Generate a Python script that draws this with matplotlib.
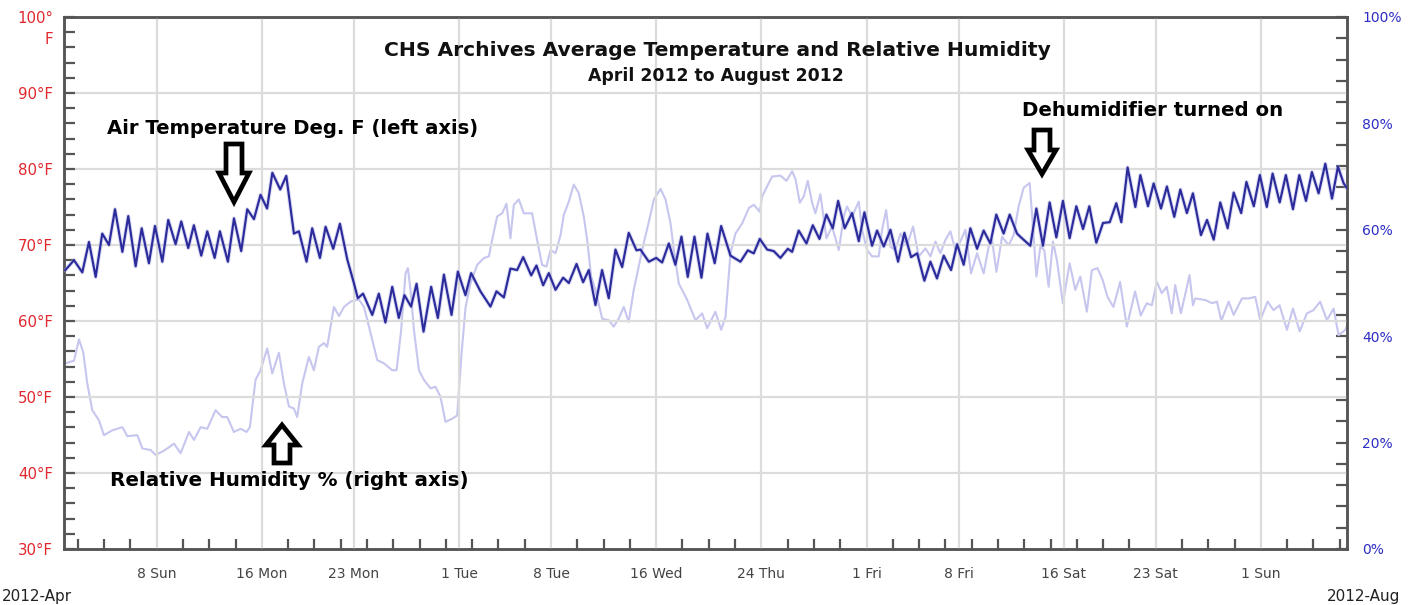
import numpy as np
import matplotlib
matplotlib.use("Agg")
import matplotlib.pyplot as plt
from matplotlib.patches import Polygon
from matplotlib.ticker import FixedLocator, MultipleLocator

# ---------------- data (days since 2012-04-01) ----------------
temp_day = [
    0.05, 0.71, 1.34, 1.85, 2.36, 2.86, 3.37, 3.83, 4.39, 4.84,
    5.4, 5.86, 6.41, 6.87, 7.43, 7.88, 8.44, 8.87, 9.4, 9.83,
    10.39, 10.85, 11.41, 11.81, 12.42, 12.88, 13.43, 13.89, 14.4, 14.9,
    15.4, 15.8, 16.4, 16.86, 17.44, 17.82, 18.4, 18.83, 19.42, 19.85,
    20.43, 20.94, 21.5, 22.0, 22.3, 22.7, 23.4, 23.9, 24.4, 24.92,
    25.42, 25.85, 26.35, 26.77, 27.3, 27.88, 28.39, 28.85, 29.43, 29.91,
    30.49, 30.92, 31.63, 32.39, 32.85, 33.41, 33.91, 34.42, 34.88, 35.49,
    35.89, 36.4, 36.83, 37.34, 37.92, 38.35, 38.94, 39.44, 39.87, 40.38,
    40.88, 41.39, 41.9, 42.41, 42.91, 43.5, 43.8, 44.44, 45.0, 45.45,
    45.96, 46.46, 46.92, 47.4, 47.91, 48.44, 48.9, 49.45, 49.94, 50.65,
    51.41, 51.97, 52.42, 52.88, 53.44, 53.94, 54.45, 55.01, 55.34, 55.84,
    56.43, 56.91, 57.42, 57.95, 58.43, 58.84, 59.34, 59.9, 60.41, 60.84,
    61.42, 61.8, 62.31, 62.82, 63.4, 63.88, 64.39, 64.85, 65.4, 65.86,
    66.36, 66.87, 67.43, 67.89, 68.39, 68.9, 69.41, 69.91, 70.42, 70.87,
    71.43, 71.89, 72.45, 72.75, 73.46, 73.92, 74.42, 74.93, 75.44, 75.94,
    76.45, 76.96, 77.47, 77.95, 78.48, 78.99, 79.5, 80.0, 80.38, 80.86,
    81.45, 81.83, 82.41, 82.84, 83.4, 83.85, 84.41, 84.87, 85.37, 85.83,
    86.44, 86.9, 87.41, 87.91, 88.47, 88.93, 89.5, 89.9, 90.46, 90.92,
    91.45, 91.89, 92.43, 92.9, 93.44, 93.92, 94.43, 94.88, 95.39, 95.9,
    96.41, 96.86, 97.3, 97.67,
]
temp_f = [
    66.7, 68.0, 66.4, 70.4, 65.8, 71.5, 70.0, 74.7, 69.1, 73.8,
    67.2, 72.2, 67.6, 72.5, 67.8, 73.3, 70.1, 73.1, 69.6, 72.6,
    68.6, 71.8, 68.3, 71.8, 67.8, 73.5, 69.2, 74.7, 73.4, 76.6,
    74.8, 79.5, 77.3, 79.1, 71.5, 71.8, 67.8, 72.2, 68.3, 72.4,
    69.5, 72.8, 68.1, 65.0, 63.0, 63.6, 60.8, 63.6, 59.8, 64.5,
    60.4, 63.4, 61.9, 64.9, 58.6, 64.5, 60.4, 66.1, 60.8, 66.5,
    63.4, 66.3, 63.9, 61.9, 63.9, 63.1, 66.9, 66.7, 68.4, 66.0,
    67.3, 64.7, 66.3, 64.1, 65.7, 65.0, 67.5, 65.1, 66.7, 62.1,
    66.7, 63.0, 69.4, 67.1, 71.6, 69.3, 69.4, 67.8, 68.3, 67.7,
    70.2, 67.4, 71.1, 65.8, 71.1, 65.7, 71.5, 67.6, 72.5, 68.6,
    67.8, 69.3, 68.9, 70.8, 69.4, 69.2, 68.3, 69.5, 69.1, 71.9,
    70.2, 72.6, 70.8, 74.0, 72.2, 75.8, 72.2, 74.2, 70.5, 74.3,
    69.9, 71.9, 69.8, 72.0, 67.8, 71.6, 68.4, 68.9, 65.3, 67.8,
    65.6, 68.6, 66.7, 70.1, 67.4, 72.2, 69.5, 71.9, 70.2, 74.0,
    71.5, 74.0, 71.5, 71.0, 69.9, 74.8, 69.9, 75.6, 71.0, 75.8,
    70.9, 75.1, 72.1, 75.1, 70.3, 72.9, 73.0, 75.5, 73.0, 80.2,
    75.0, 79.2, 75.1, 78.1, 74.8, 77.7, 73.7, 77.3, 74.2, 76.8,
    71.3, 73.3, 70.7, 75.6, 72.2, 76.9, 74.2, 78.3, 75.1, 79.2,
    75.0, 79.4, 75.6, 79.2, 74.7, 79.2, 75.8, 79.6, 76.8, 80.7,
    76.1, 80.3, 78.1, 77.2,
]
rh_day = [
    0.05, 0.71, 1.09, 1.42, 1.72, 2.1, 2.61, 2.99, 3.62, 4.39,
    4.77, 5.53, 5.91, 6.54, 6.92, 7.43, 7.81, 8.32, 8.82, 9.46,
    9.84, 10.34, 10.85, 11.48, 11.98, 12.37, 12.87, 13.38, 13.84, 14.09,
    14.52, 14.9, 15.41, 15.79, 16.3, 16.68, 17.06, 17.44, 17.69, 18.07,
    18.58, 18.96, 19.34, 19.72, 19.97, 20.48, 20.87, 21.25, 21.75, 22.38,
    22.77, 23.15, 23.78, 24.29, 24.92, 25.25, 25.6, 25.93, 26.11, 26.31,
    26.57, 26.95, 27.33, 27.83, 28.21, 28.59, 28.97, 29.48, 29.86, 30.19,
    30.5, 30.87, 31.38, 31.89, 32.27, 32.52, 32.9, 33.28, 33.61, 33.91,
    34.17, 34.55, 34.93, 35.56, 35.94, 36.32, 36.65, 36.96, 37.34, 37.72,
    37.97, 38.35, 38.73, 39.11, 39.49, 39.75, 40.05, 40.38, 40.89, 41.39,
    41.77, 42.15, 42.53, 42.91, 43.29, 43.67, 44.05, 44.44, 44.82, 45.33,
    45.71, 46.09, 46.34, 46.72, 47.36, 47.99, 48.49, 48.88, 49.5, 49.94,
    50.27, 50.65, 51.03, 51.54, 52.05, 52.42, 52.88, 53.06, 53.44, 53.82,
    54.45, 54.91, 55.34, 55.6, 55.92, 56.23, 56.53, 56.86, 57.11, 57.49,
    57.95, 58.38, 58.89, 59.27, 59.52, 59.9, 60.41, 60.66, 61.04, 61.42,
    61.93, 62.18, 62.49, 62.82, 63.2, 63.58, 64.08, 64.54, 64.97, 65.48,
    65.86, 66.24, 66.62, 67.0, 67.38, 67.76, 68.14, 68.52, 68.95, 69.41,
    69.91, 70.29, 70.55, 70.88, 71.31, 71.81, 72.19, 72.57, 72.95, 73.41,
    73.66, 73.92, 74.22, 74.52, 74.85, 75.18, 75.48, 75.94, 76.45, 76.88,
    77.26, 77.76, 78.14, 78.57, 78.97, 79.33, 79.78, 80.29, 80.8, 81.43,
    81.86, 82.32, 82.7, 83.08, 83.46, 83.84, 84.22, 84.48, 84.91, 85.32,
    85.57, 85.83, 86.0, 86.77, 87.28, 87.66, 87.99, 88.55, 88.93, 89.56,
    90.07, 90.57, 90.95, 91.51, 91.96, 92.42, 92.98, 93.44, 93.95, 94.5,
    95.0, 95.51, 96.02, 96.53, 96.91, 97.42, 97.8,
]
rh_pct = [
    34.9, 35.4, 39.4, 36.9, 31.1, 26.1, 24.2, 21.4, 22.3, 22.9,
    21.2, 21.4, 18.9, 18.6, 17.7, 18.3, 18.9, 19.8, 18.0, 22.0,
    20.5, 22.9, 22.6, 26.1, 24.8, 24.8, 22.0, 22.6, 22.0, 22.9,
    31.8, 33.6, 37.7, 33.0, 36.9, 31.1, 26.8, 26.4, 24.8, 31.1,
    36.1, 33.6, 38.0, 38.7, 38.0, 45.5, 43.8, 45.5, 46.5, 46.9,
    45.5, 41.8, 35.5, 34.9, 33.6, 33.6, 41.2, 51.8, 52.8, 48.7,
    41.2, 33.6, 31.8, 30.2, 30.5, 28.6, 23.9, 24.5, 25.1, 36.7,
    45.5, 49.9, 53.4, 54.7, 55.0, 58.1, 62.5, 63.1, 64.9, 58.4,
    64.7, 65.7, 63.1, 63.1, 58.1, 53.4, 53.1, 56.2, 55.6, 59.0,
    62.8, 65.3, 68.5, 66.9, 62.5, 58.1, 51.2, 48.7, 43.3, 43.0,
    41.8, 43.3, 45.5, 42.7, 48.7, 53.1, 57.5, 61.5, 65.7, 67.7,
    65.7, 61.2, 56.2, 49.9, 46.8, 43.0, 44.3, 41.5, 44.6, 41.2,
    43.6, 55.6, 59.3, 61.2, 64.1, 64.7, 63.4, 66.3, 68.2, 70.0,
    70.2, 69.2, 71.0, 69.5, 65.1, 66.3, 69.2, 65.1, 63.1, 66.7,
    58.4, 60.6, 56.2, 62.5, 64.4, 62.5, 65.3, 60.0, 56.2, 55.0,
    55.0, 60.0, 63.7, 56.8, 56.2, 59.3, 57.1, 60.6, 55.0, 56.5,
    55.0, 57.8, 55.6, 58.1, 59.7, 56.2, 57.8, 60.0, 51.8, 55.6,
    51.8, 56.8, 58.1, 52.1, 58.7, 57.1, 59.0, 64.4, 67.9, 68.8,
    60.6, 51.2, 56.8, 56.2, 49.3, 57.8, 54.3, 46.2, 53.7, 48.7,
    51.2, 44.6, 52.4, 52.8, 50.5, 47.4, 45.5, 50.2, 41.8, 48.4,
    43.9, 46.2, 45.8, 50.2, 48.1, 49.3, 44.3, 49.6, 44.3, 48.7,
    51.5, 45.8, 47.1, 46.8, 46.2, 46.5, 42.9, 46.5, 44.0, 47.1,
    47.1, 47.4, 43.0, 46.5, 44.9, 45.8, 41.2, 45.2, 40.9, 44.3,
    44.9, 46.5, 43.0, 45.2, 40.2, 41.2, 43.3,
]

x_tick_days = [7, 15, 22, 30, 37, 45, 53, 61, 68, 76, 83, 91]
x_tick_labels = ["8 Sun", "16 Mon", "23 Mon", "1 Tue", "8 Tue", "16 Wed",
                 "24 Thu", "1 Fri", "8 Fri", "16 Sat", "23 Sat", "1 Sun"]
left_ticks = [30, 40, 50, 60, 70, 80, 90, 100]
left_labels = ["30°F", "40°F", "50°F", "60°F", "70°F", "80°F", "90°F", ""]
right_ticks = [0, 20, 40, 60, 80, 100]
right_labels = ["0%", "20%", "40%", "60%", "80%", "100%"]

title_lines = ["CHS Archives Average Temperature and Relative Humidity",
               "April 2012 to August 2012"]

# ---------------- figure ----------------
W, H = 1414, 605
fig = plt.figure(figsize=(W / 100, H / 100), dpi=100)
fig.patch.set_facecolor("white")

L, R, T, B = 64, 1347, 17, 549
ax = fig.add_axes([L / W, 1 - B / H, (R - L) / W, (B - T) / H])
ax2 = ax.twinx()

spine_c = "#555555"
grid_c = "#dcdcdc"
red = "#e0282e"
blue = "#2d2dc4"

ax.set_xlim(-0.05, 97.55)
ax.set_ylim(30, 100)
ax2.set_ylim(0, 100)

# grid
for d in x_tick_days:
    ax.axvline(d, color=grid_c, lw=1.6, zorder=0)
for v in left_ticks[1:-1]:
    ax.axhline(v, color=grid_c, lw=1.6, zorder=0)

# lines
ax2.plot(rh_day, rh_pct, color="#c6c6ee", lw=1.5, zorder=2)
ax.plot(temp_day, temp_f, color="#a8a8e0", lw=3.0, alpha=0.4, zorder=3,
        solid_joinstyle="round")
ax.plot(temp_day, temp_f, color="#2b2b9c", lw=1.55, zorder=4,
        solid_joinstyle="round")
ax.set_zorder(ax2.get_zorder() + 1)
ax.patch.set_visible(False)

# ticks
ax.xaxis.set_major_locator(FixedLocator(x_tick_days))
ax.set_xticklabels(x_tick_labels)
ax.xaxis.set_minor_locator(FixedLocator(np.arange(1, 98, 2)))
ax.tick_params(axis="x", which="major", length=0, pad=13, labelsize=10,
               labelcolor="#444444")
ax.tick_params(axis="x", which="minor", length=7, width=1.6, direction="in",
               color=spine_c)

ax.yaxis.set_major_locator(FixedLocator(left_ticks))
ax.set_yticklabels(left_labels)
ax.yaxis.set_minor_locator(MultipleLocator(2))
ax.tick_params(axis="y", which="both", length=8, width=1.6, direction="in",
               color=spine_c, labelcolor=red, labelsize=10.8, pad=8)

ax2.yaxis.set_major_locator(FixedLocator(right_ticks))
ax2.set_yticklabels(right_labels)
ax2.yaxis.set_minor_locator(MultipleLocator(4))
ax2.tick_params(axis="y", which="both", length=8, width=1.6, direction="in",
                color=spine_c, labelcolor=blue, labelsize=10, pad=11)

for a in (ax, ax2):
    for s in a.spines.values():
        s.set_color(spine_c)
        s.set_linewidth(1.8)

# 100°F label split on two lines
ax.annotate("100°\nF", xy=(0, 1), xycoords="axes fraction", xytext=(-8, 4),
            textcoords="offset points", ha="right", va="top", color=red,
            fontsize=10.8, linespacing=1.45, multialignment="right")


def px(x, y):
    return (x / W, 1 - y / H)


# title
fig.text(*px(717, 50), title_lines[0], ha="center", va="center",
         fontsize=14.6, fontweight="bold", color="#111111")
fig.text(*px(716, 76), title_lines[1], ha="center", va="center",
         fontsize=12.4, fontweight="bold", color="#111111")

# annotations
fig.text(*px(107, 128), "Air Temperature Deg. F (left axis)", ha="left",
         va="center", fontsize=14.1, fontweight="bold", color="black")
fig.text(*px(110, 480), "Relative Humidity % (right axis)", ha="left",
         va="center", fontsize=14.3, fontweight="bold", color="black")
fig.text(*px(1022, 110), "Dehumidifier turned on", ha="left",
         va="center", fontsize=14.2, fontweight="bold", color="black")


def block_arrow(cx, start, base, tip, sw, hw):
    pts = [(cx - sw, start), (cx + sw, start), (cx + sw, base), (cx + hw, base),
           (cx, tip), (cx - hw, base), (cx - sw, base)]
    poly = Polygon([px(x, y) for x, y in pts], closed=True,
                   transform=fig.transFigure, facecolor="white",
                   edgecolor="black", lw=3.4, joinstyle="miter", zorder=10)
    fig.add_artist(poly)


block_arrow(234, 144, 173, 202, 8, 15)
block_arrow(282, 463, 445, 425, 8, 16)
block_arrow(1042, 130, 150, 174, 8, 14)

# period labels
fig.text(*px(2, 596), "2012-Apr", ha="left", va="center", fontsize=11,
         color="#222222")
fig.text(*px(1400, 596), "2012-Aug", ha="right", va="center", fontsize=11,
         color="#222222")

fig.savefig("out.png", dpi=100, facecolor="white")
